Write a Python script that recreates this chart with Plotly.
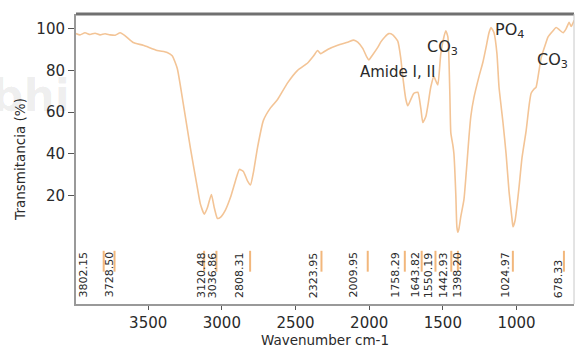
import plotly.graph_objects as go

# Spectrum
wavenumber = [3990, 3963, 3929, 3895, 3861, 3827, 3793, 3759, 3724, 3690, 3656, 3602, 3534, 3439, 3371,
              3337, 3303, 3262, 3214, 3167, 3146, 3119, 3099, 3071, 3051, 3030, 3010, 2976, 2942, 2908,
              2881, 2854, 2826, 2806, 2786, 2758, 2718, 2670, 2622, 2554, 2486, 2418, 2377, 2350, 2330,
              2316, 2282, 2214, 2146, 2105, 2078, 2044, 2017, 2003, 1976, 1942, 1922, 1894, 1867, 1840,
              1806, 1786, 1772, 1751, 1738, 1718, 1697, 1670, 1650, 1636, 1615, 1602, 1582, 1561, 1548,
              1534, 1514, 1493, 1480, 1466, 1453, 1446, 1432, 1425, 1412, 1405, 1398, 1391, 1378, 1357,
              1337, 1323, 1310, 1289, 1255, 1228, 1207, 1187, 1173, 1153, 1133, 1119, 1092, 1071, 1051,
              1031, 1024, 1010, 997, 983, 963, 935, 915, 901, 881, 867, 847, 833, 806, 786,
              758, 731, 711, 684, 663, 643, 629, 609]
transmittance = [97.6, 97.0, 98.0, 97.2, 97.8, 97.0, 97.5, 97.0, 96.8, 98.0, 96.5, 93.3, 92.0, 89.5, 88.6,
                 87.0, 81.0, 64.0, 43.0, 24.0, 16.0, 11.0, 14.0, 20.5, 14.0, 9.0, 9.5, 13.0, 19.0, 27.0,
                 32.5, 31.5, 27.0, 25.0, 31.0, 43.0, 56.0, 62.0, 66.0, 74.0, 80.0, 83.5, 87.0, 89.5, 88.0,
                 88.5, 90.0, 92.0, 93.5, 94.5, 93.5, 90.5, 86.5, 85.0, 87.5, 91.0, 93.5, 96.0, 97.6, 97.0,
                 94.0, 86.0, 77.0, 66.0, 63.0, 66.0, 69.0, 69.5, 62.0, 55.0, 58.0, 63.0, 72.0, 77.0, 75.0,
                 73.0, 88.0, 96.0, 99.0, 96.0, 70.0, 50.0, 44.0, 40.0, 20.0, 5.0, 2.4, 4.0, 10.0, 18.0,
                 35.0, 48.0, 58.0, 67.0, 77.0, 84.0, 91.0, 98.0, 100.5, 98.0, 88.0, 72.0, 55.0, 40.0, 22.0,
                 9.0, 5.0, 8.0, 15.0, 24.0, 38.0, 51.0, 63.0, 69.0, 71.0, 72.0, 80.0, 86.0, 92.0, 96.0,
                 98.5, 100.5, 99.5, 98.0, 100.0, 103.0, 101.0, 104.0]

# Peak labels
peak_values = [3802.15, 3728.50, 3120.48, 3036.86, 2808.31, 2323.95, 2009.95, 1758.29,
               1643.82, 1550.19, 1442.93, 1398.20, 1024.97, 678.33]
peak_text = ["3802,15", "3728,50", "3120,48", "3036,86", "2808,31", "2323,95", "2009,95", "1758,29",
             "1643,82", "1550,19", "1442,93", "1398,20", "1024,97", "678,33"]
label_shift = [-20, -5, -2, -4, -10, -8, -14, -9, -6, -7, -7, 0, -7, -6]

# Band labels
band_text = ["Amide I, II", "CO<sub>3</sub>", "PO<sub>4</sub>", "CO<sub>3</sub>"]
band_x = [1809, 1500, 1051, 758]
band_y = [79, 91, 99, 84.8]

x_ticks = [3500, 3000, 2500, 2000, 1500, 1000]
y_ticks = [20, 40, 60, 80, 100]

FONT = "DejaVu Sans"
LINE = "#F3C496"
TXT = "#2a2a2a"

fig = go.Figure()
fig.add_trace(go.Scatter(x=wavenumber, y=transmittance, mode="lines",
                         line=dict(color=LINE, width=1.6, shape="spline", smoothing=0.5),
                         hoverinfo="skip", showlegend=False))

shapes = []
annotations = []

# faint, translucent watermark
annotations.append(dict(x=-0.008, y=0.72, xref="paper", yref="paper", text="<b>bhi</b>", showarrow=False,
                        xanchor="right", yanchor="middle",
                        font=dict(family=FONT, size=44, color="rgba(0,0,0,0.07)")))

for v, t, s in zip(peak_values, peak_text, label_shift):
    shapes.append(dict(type="line", xref="x", yref="y", x0=v, x1=v, y0=-16.5, y1=-6.5,
                       line=dict(color="#F2B77C", width=2)))
    annotations.append(dict(x=v, y=-30, xref="x", yref="y", text=t.replace(",", "."), showarrow=False,
                            textangle=-90, xanchor="center", yanchor="bottom", xshift=s,
                            font=dict(family=FONT, size=11, color=TXT)))

for t, x, y in zip(band_text, band_x, band_y):
    size = 15 if t.startswith("Amide") else 16
    annotations.append(dict(x=x, y=y, xref="x", yref="y", text=t, showarrow=False,
                            xanchor="center", yanchor="middle",
                            font=dict(family=FONT, size=size, color=TXT)))

# frame: top thick and right thin
shapes.append(dict(type="line", xref="paper", yref="paper", x0=0, x1=1, y0=1, y1=1,
                   line=dict(color="#707070", width=3)))
shapes.append(dict(type="line", xref="paper", yref="paper", x0=1, x1=1, y0=0, y1=1,
                   line=dict(color="#c8c8c8", width=1)))

fig.update_layout(
    width=575, height=351,
    margin=dict(l=76, r=1, t=14, b=47),
    paper_bgcolor="white", plot_bgcolor="white",
    shapes=shapes, annotations=annotations,
    font=dict(family=FONT, color=TXT),
    xaxis=dict(range=[3990, 610], tickvals=x_ticks, ticks="outside", ticklen=4, tickcolor="#555",
               showgrid=False, zeroline=False, showline=True, linecolor="#999", linewidth=2,
               tickfont=dict(family=FONT, size=15, color=TXT),
               title=dict(text="Wavenumber cm-1", font=dict(family=FONT, size=13.5, color=TXT), standoff=4)),
    yaxis=dict(range=[-32, 107], tickvals=y_ticks, ticks="outside", ticklen=6, tickcolor="#555",
               showgrid=False, zeroline=False, showline=True, linecolor="#999", linewidth=2,
               tickfont=dict(family=FONT, size=15, color=TXT),
               title=dict(text="Transmitancia (%)", font=dict(family=FONT, size=13.5, color=TXT), standoff=8)),
)

fig.write_html("out.html", config={"displayModeBar": False},
               post_script="document.body.style.margin='0';document.body.style.overflow='hidden';")
